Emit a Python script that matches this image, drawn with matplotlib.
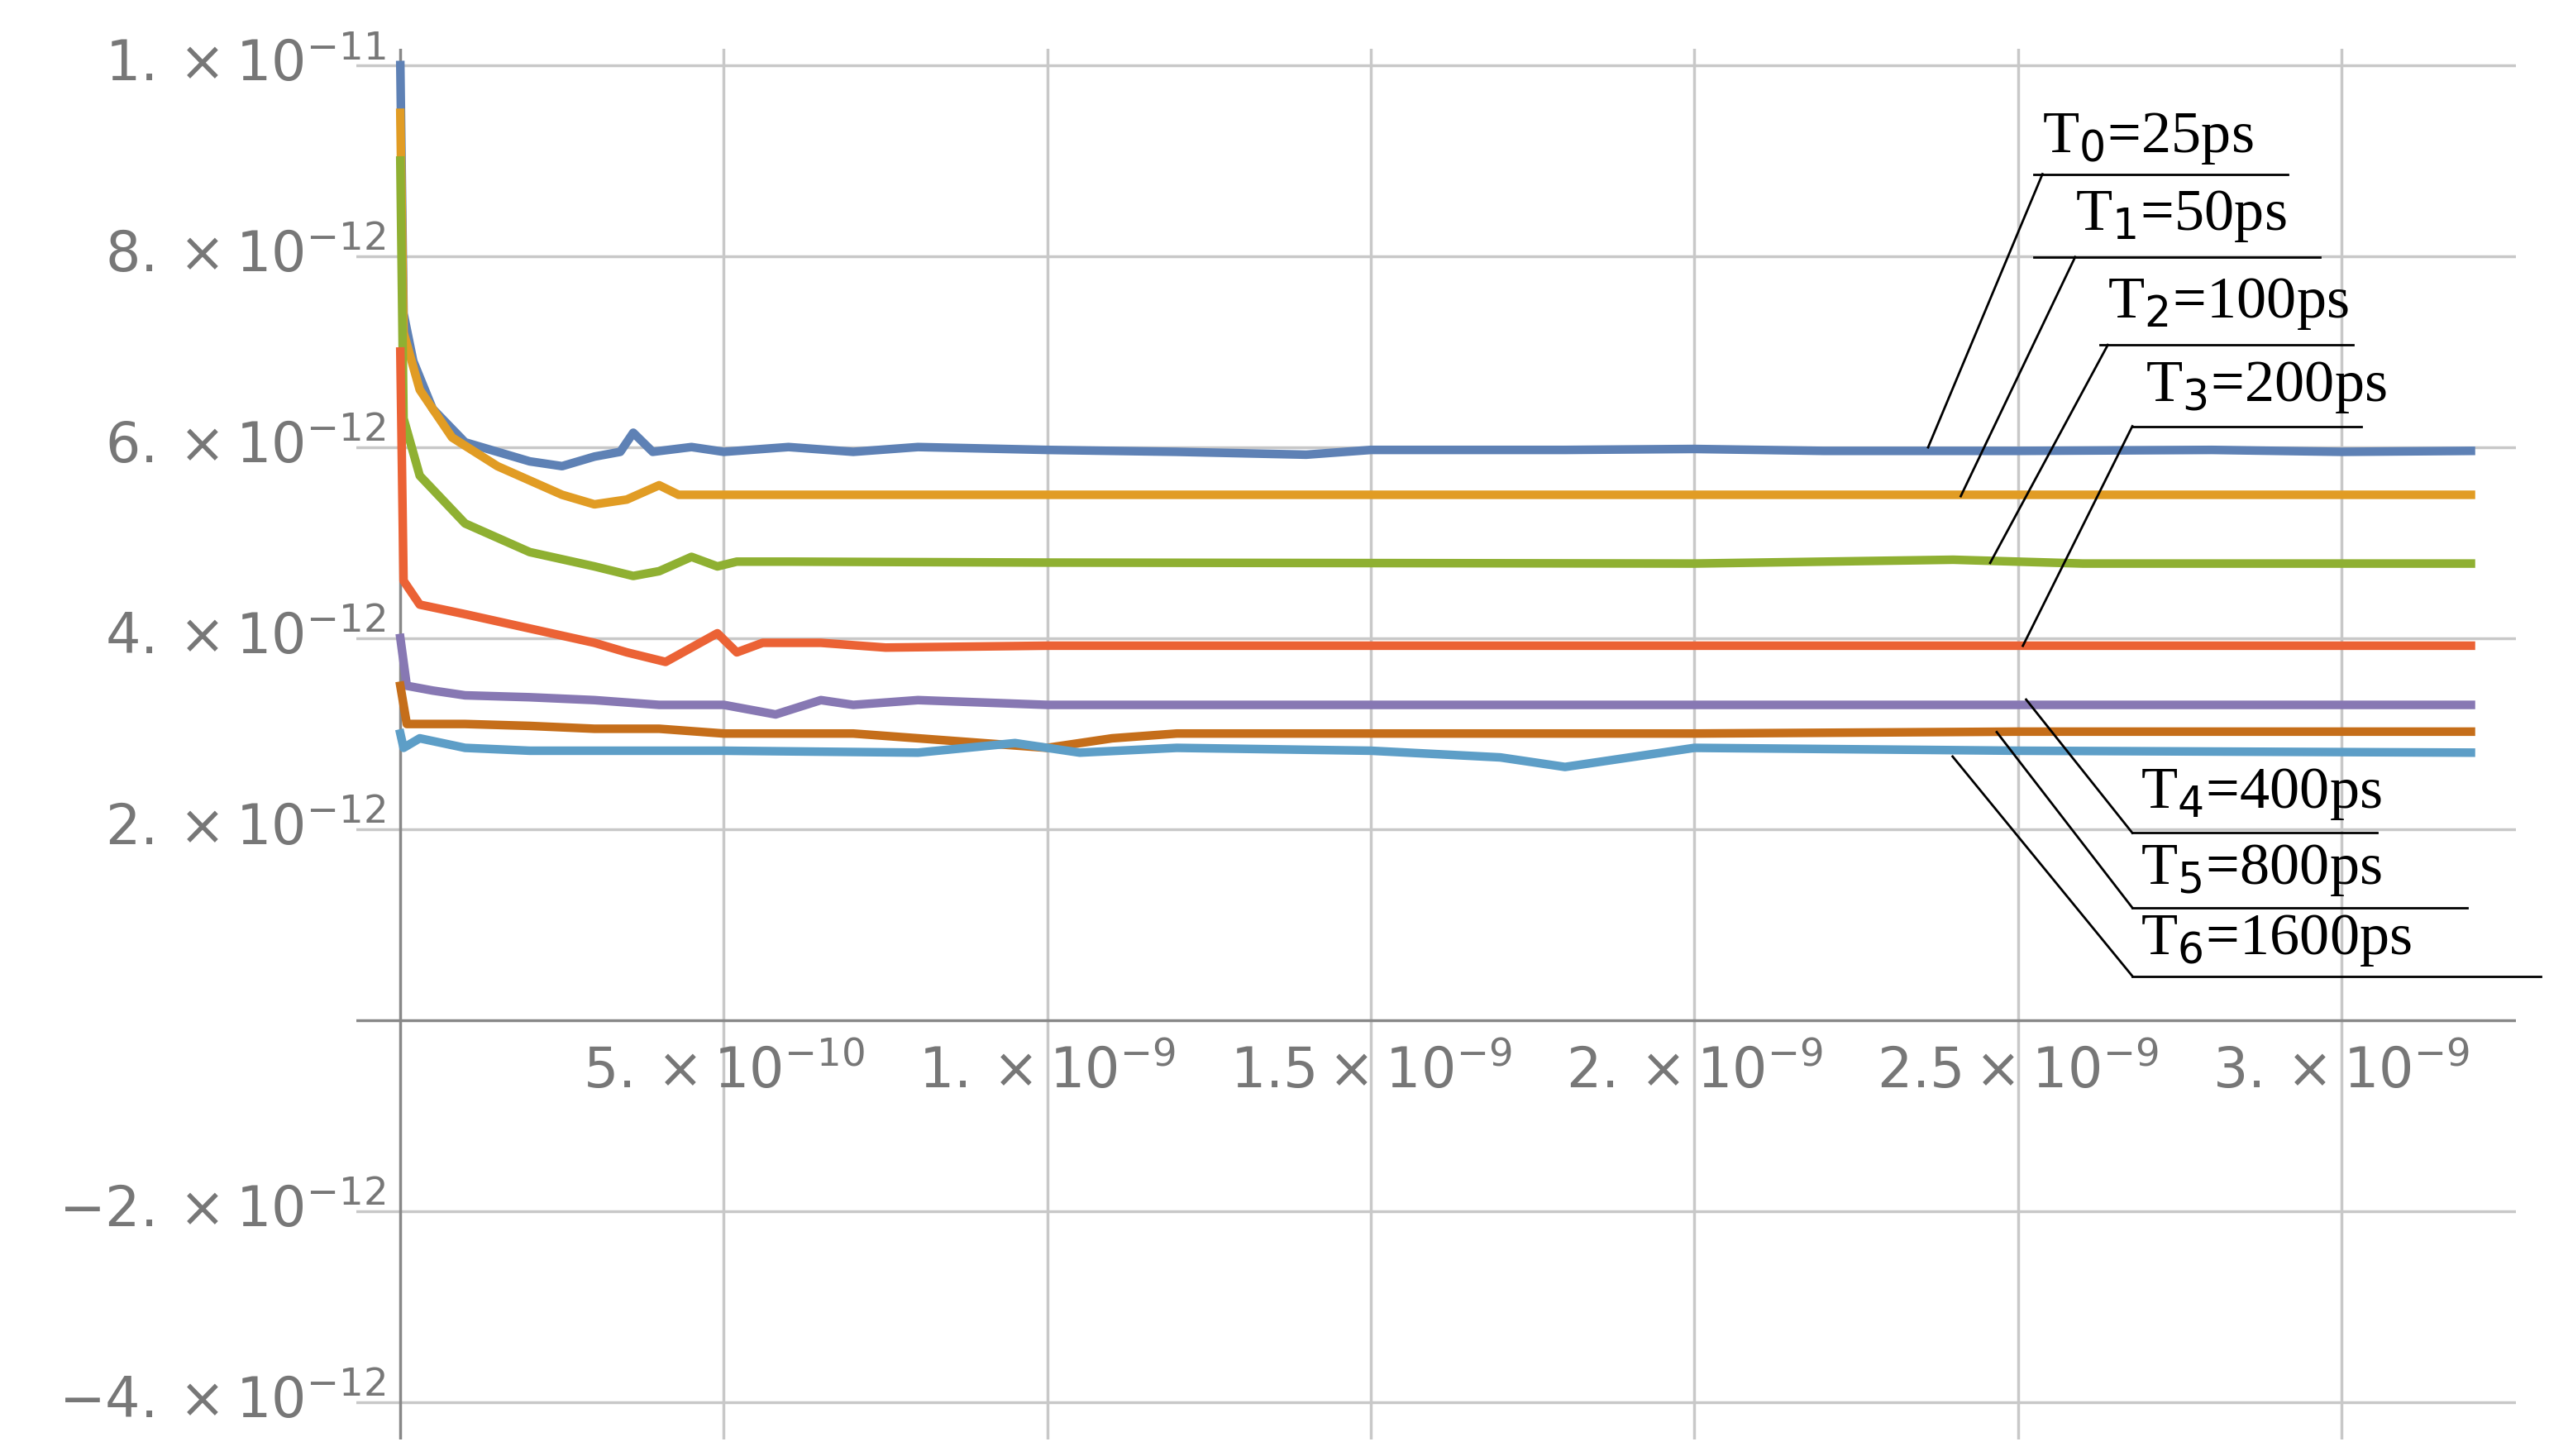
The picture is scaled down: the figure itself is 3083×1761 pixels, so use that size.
import matplotlib
matplotlib.use("Agg")
import matplotlib.pyplot as plt

# data: x in units of 1e-10, y in units of 1e-12
names = ["T$_0$=25ps", "T$_1$=50ps", "T$_2$=100ps", "T$_3$=200ps", "T$_4$=400ps", "T$_5$=800ps", "T$_6$=1600ps"]
colors = ["#5E81B5", "#E19C24", "#8FB032", "#EB6235", "#8778B3", "#C56E1A", "#5D9EC7"]
t0_x = [0,0.05,0.2,0.5,1,1.5,2,2.5,3,3.4,3.6,3.9,4.5,5,6,7,8,10,12,14,15,18,20,22,25,28,30,32]
t0_y = [10,7.4,6.9,6.4,6.05,5.95,5.85,5.8,5.9,5.95,6.15,5.95,6.0,5.95,6.0,5.95,6.0,5.97,5.95,5.92,5.97,5.97,5.98,5.96,5.96,5.97,5.95,5.96]
t1_x = [0,0.05,0.3,0.8,1.5,2.5,3,3.5,4,4.3,5,6,8,32]
t1_y = [9.5,7.2,6.6,6.1,5.8,5.5,5.4,5.45,5.6,5.5,5.5,5.5,5.5,5.5]
t2_x = [0,0.05,0.3,1,2,3,3.6,4,4.5,4.9,5.2,6,10,20,24,26,32]
t2_y = [9,6.3,5.7,5.2,4.9,4.75,4.65,4.7,4.85,4.75,4.8,4.8,4.79,4.78,4.82,4.78,4.78]
t3_x = [0,0.05,0.3,1,2,3,3.5,4.1,4.5,4.9,5.2,5.6,6.5,7.5,10,32]
t3_y = [7,4.6,4.35,4.25,4.1,3.95,3.85,3.75,3.9,4.05,3.85,3.95,3.95,3.9,3.92,3.92]
t4_x = [0,0.1,0.5,1,2,3,4,5,5.8,6.5,7,8,10,32]
t4_y = [4,3.5,3.45,3.4,3.38,3.35,3.3,3.3,3.2,3.35,3.3,3.35,3.3,3.3]
t5_x = [0,0.1,1,2,3,4,5,6,7,8,9,10,11,12,15,20,25,32]
t5_y = [3.5,3.1,3.1,3.08,3.05,3.05,3.0,3.0,3.0,2.95,2.9,2.85,2.95,3.0,3.0,3.0,3.02,3.02]
t6_x = [0,0.05,0.3,1,2,5,8,9.5,10.5,12,15,17,18,19,20,25,32]
t6_y = [3.0,2.85,2.95,2.85,2.82,2.82,2.8,2.9,2.8,2.85,2.82,2.75,2.65,2.75,2.85,2.82,2.8]
xs = [t0_x, t1_x, t2_x, t3_x, t4_x, t5_x, t6_x]
ys = [t0_y, t1_y, t2_y, t3_y, t4_y, t5_y, t6_y]
xticks = [5, 10, 15, 20, 25, 30]
xtick_labels = [r"$5.\times10^{-10}$", r"$1.\times10^{-9}$", r"$1.5\times10^{-9}$", r"$2.\times10^{-9}$", r"$2.5\times10^{-9}$", r"$3.\times10^{-9}$"]
yticks = [10, 8, 6, 4, 2, -2, -4]
ytick_labels = [r"$1.\times10^{-11}$", r"$8.\times10^{-12}$", r"$6.\times10^{-12}$", r"$4.\times10^{-12}$", r"$2.\times10^{-12}$", r"$-2.\times10^{-12}$", r"$-4.\times10^{-12}$"]

W, H = 1560.0, 895.0
def px(p):  # display px -> data x
    return (p - 245) / 198 * 5
def py(p):
    return (627 - p) / 117.4 * 2

fig = plt.figure(figsize=(30.83, 17.61), dpi=100)
l, r, b, t = 218, 1540, 885, 30
ax = fig.add_axes([l / W, 1 - b / H, (r - l) / W, (b - t) / H])
ax.set_xlim(px(l), px(r))
ax.set_ylim(py(b), py(t))
for s in ax.spines.values():
    s.set_visible(False)
ax.set_xticks([]); ax.set_yticks([])
for xv in xticks:
    ax.axvline(xv, color="#c8c8c8", lw=2.5, zorder=0)
for yv in yticks:
    ax.axhline(yv, color="#c8c8c8", lw=2.5, zorder=0)
ax.axhline(0, color="#888888", lw=2.5, zorder=1)
ax.axvline(0, color="#888888", lw=2.5, zorder=1)
for xv, lab in zip(xticks, xtick_labels):
    ax.text(xv, py(642), lab, ha="center", va="top", fontsize=48, color="#777777")
for yv, lab in zip(yticks, ytick_labels):
    ax.text(px(236), yv, lab, ha="right", va="center", fontsize=48, color="#777777", clip_on=False)

for xx, yy, c in zip(xs, ys, colors):
    ax.plot(xx, yy, color=c, lw=7.5, zorder=3, solid_joinstyle="round")

# labels: (text x, text y, underline x0, x1, underline y, leader start x, end x, end y)
lab_geo = [(1250, 85, 1245, 1400, 107, 1250, 1180, 275),
           (1270, 133, 1245, 1420, 158, 1270, 1200, 305),
           (1290, 187, 1285, 1440, 212, 1290, 1218, 346),
           (1313, 238, 1305, 1445, 262, 1305, 1238, 397),
           (1310, 488, 1305, 1455, 512, 1305, 1240, 430),
           (1310, 535, 1305, 1510, 558, 1305, 1222, 450),
           (1310, 578, 1305, 1555, 600, 1305, 1195, 465)]
for name, g in zip(names, lab_geo):
    tx, ty, u0, u1, uy, lx, ex, ey = g
    ax.text(px(tx), py(ty), name, ha="left", va="center", fontsize=52,
            family="Liberation Serif", color="black", zorder=5, clip_on=False)
    ax.plot([px(u0), px(u1)], [py(uy), py(uy)], color="black", lw=2, zorder=5, clip_on=False)
    ax.plot([px(lx), px(ex)], [py(uy), py(ey)], color="black", lw=2, zorder=5, clip_on=False)

fig.savefig("out.png", dpi=100)
